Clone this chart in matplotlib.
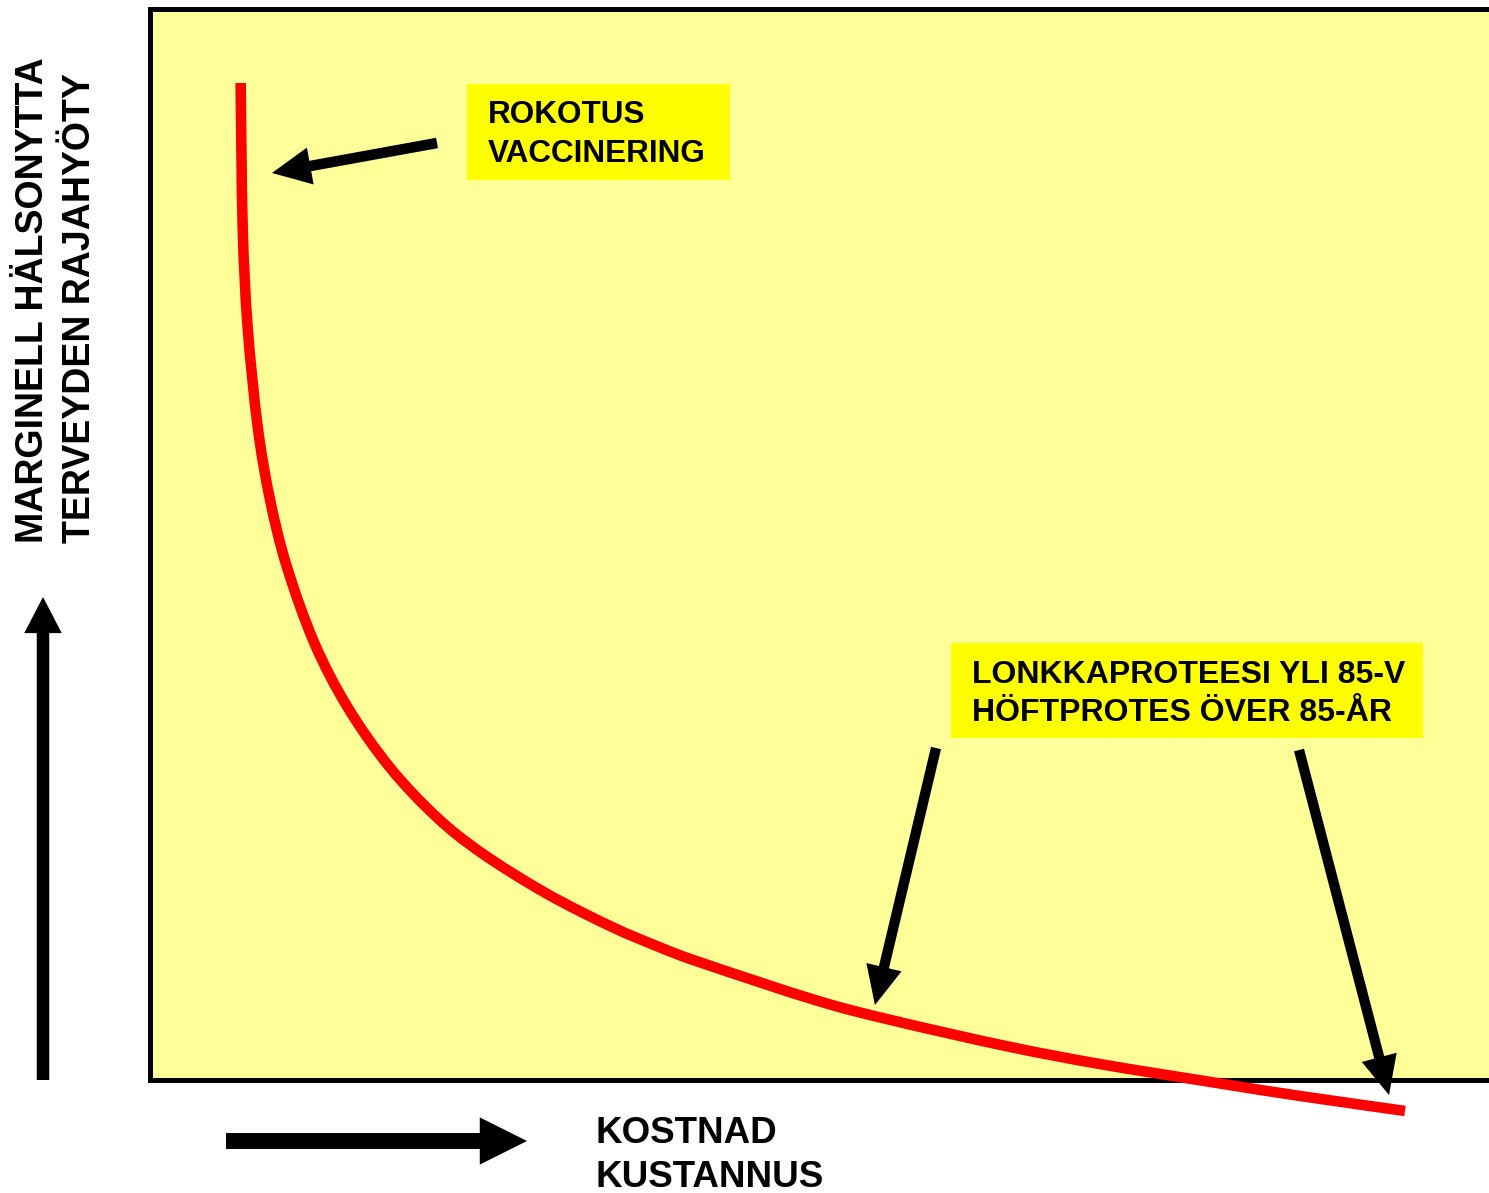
import matplotlib
matplotlib.use("Agg")
import matplotlib.pyplot as plt
import numpy as np
from matplotlib.patches import Rectangle, PathPatch
from matplotlib.path import Path

# ---- data (axes units 0-100) ----
cost = [6.74, 6.89, 7.26, 8.01, 8.93, 10.18, 12.22, 14.68, 17.81, 21.30,
        24.65, 29.41, 34.20, 37.77, 40.89, 49.44, 55.09, 63.64, 70.63,
        79.33, 85.50, 93.31]
benefit = [93.09, 79.65, 70.31, 60.97, 54.15, 47.90, 40.80, 34.83, 29.22,
           24.56, 21.20, 17.46, 14.38, 12.46, 10.99, 7.47, 5.60, 3.17,
           1.49, -0.28, -1.49, -2.89]

ylabel_lines = ["MARGINELL HÄLSONYTTA", "TERVEYDEN RAJAHYÖTY"]
xlabel_lines = ["KOSTNAD", "KUSTANNUS"]
vacc_lines = ["ROKOTUS", "VACCINERING"]
hip_lines = ["LONKKAPROTEESI YLI 85-V", "HÖFTPROTES ÖVER 85-ÅR"]

FONT = ["Liberation Sans", "DejaVu Sans"]
W, H = 1489, 1193

fig = plt.figure(figsize=(W / 100, H / 100), dpi=100)
fig.patch.set_facecolor("white")

# decoration layer in pixel coordinates
deco = fig.add_axes([0, 0, 1, 1], zorder=0)
deco.set_xlim(0, W)
deco.set_ylim(H, 0)
deco.axis("off")
deco.patch.set_alpha(0)

# main plotting box
left, right, top, bottom = 150, 1495, 9, 1080
ax = fig.add_axes([left / W, (H - bottom) / H, (right - left) / W, (bottom - top) / H], zorder=1)
ax.set_facecolor("#FFFF99")
ax.set_xlim(0, 100)
ax.set_ylim(0, 100)
ax.set_xticks([])
ax.set_yticks([])
for s in ["left", "top", "bottom"]:
    ax.spines[s].set_linewidth(3.6)
    ax.spines[s].set_color("black")
ax.spines["right"].set_visible(False)

# the curve: smooth cubic Bezier path through the read points (Catmull-Rom)
P = np.column_stack([cost, benefit])
verts = [tuple(P[0])]
codes = [Path.MOVETO]
n = len(P)
for i in range(n - 1):
    p0 = P[max(i - 1, 0)]
    p1 = P[i]
    p2 = P[i + 1]
    p3 = P[min(i + 2, n - 1)]
    c1 = p1 + (p2 - p0) / 6.0
    c2 = p2 - (p3 - p1) / 6.0
    verts += [tuple(c1), tuple(c2), tuple(p2)]
    codes += [Path.CURVE4] * 3
curve = PathPatch(Path(verts, codes), facecolor="none", edgecolor="#FF0000",
                  lw=7.6, capstyle="butt", joinstyle="round", clip_on=False, zorder=3)
ax.add_patch(curve)

def arrow(a, tail, tip, hl, hw, tw):
    a.annotate("", xy=tip, xytext=tail, xycoords="data", textcoords="data",
               annotation_clip=False,
               arrowprops=dict(arrowstyle=f"simple,head_length={hl},head_width={hw},tail_width={tw}",
                               mutation_scale=1, color="black", lw=0,
                               shrinkA=0, shrinkB=0), zorder=4)

# vaccination box
ax.add_patch(Rectangle((23.57, 84.03), 43.12 - 23.57, 93.0 - 84.03,
                       facecolor="#FFFF00", edgecolor="none", zorder=2))
ax.text(25.13, 89.36, vacc_lines[0], family=FONT, weight="bold", fontsize=22.7,
        va="baseline", ha="left", zorder=3)
ax.text(25.13, 85.71, vacc_lines[1], family=FONT, weight="bold", fontsize=22.7,
        va="baseline", ha="left", zorder=3)
arrow(ax, (21.34, 87.49), (9.07, 84.69), 28, 27, 7.6)

# hip prosthesis box
ax.add_patch(Rectangle((59.55, 31.93), 94.65 - 59.55, 40.80 - 31.93,
                       facecolor="#FFFF00", edgecolor="none", zorder=2))
ax.text(61.12, 37.07, hip_lines[0], family=FONT, weight="bold", fontsize=23,
        va="baseline", ha="left", zorder=3)
ax.text(61.12, 33.52, hip_lines[1], family=FONT, weight="bold", fontsize=23,
        va="baseline", ha="left", zorder=3)
arrow(ax, (58.44, 31.00), (53.90, 7.00), 28, 26, 7.4)
arrow(ax, (85.43, 30.81), (92.12, -1.40), 28, 26, 7.4)

# axis direction arrows (pixel coords)
arrow(deco, (43, 1080), (43, 597), 26, 27, 9)
arrow(deco, (226, 1141), (527, 1141), 34, 34, 11.5)

# y label (rotated)
deco.text(43, 543, ylabel_lines[0], family=FONT, weight="bold", fontsize=27,
          rotation=90, rotation_mode="anchor", ha="left", va="baseline")
deco.text(90, 543, ylabel_lines[1], family=FONT, weight="bold", fontsize=27,
          rotation=90, rotation_mode="anchor", ha="left", va="baseline")

# x label
deco.text(596, 1143, xlabel_lines[0], family=FONT, weight="bold", fontsize=26.5,
          ha="left", va="baseline")
deco.text(596, 1187, xlabel_lines[1], family=FONT, weight="bold", fontsize=26.5,
          ha="left", va="baseline")

fig.savefig("out.png", dpi=100)
